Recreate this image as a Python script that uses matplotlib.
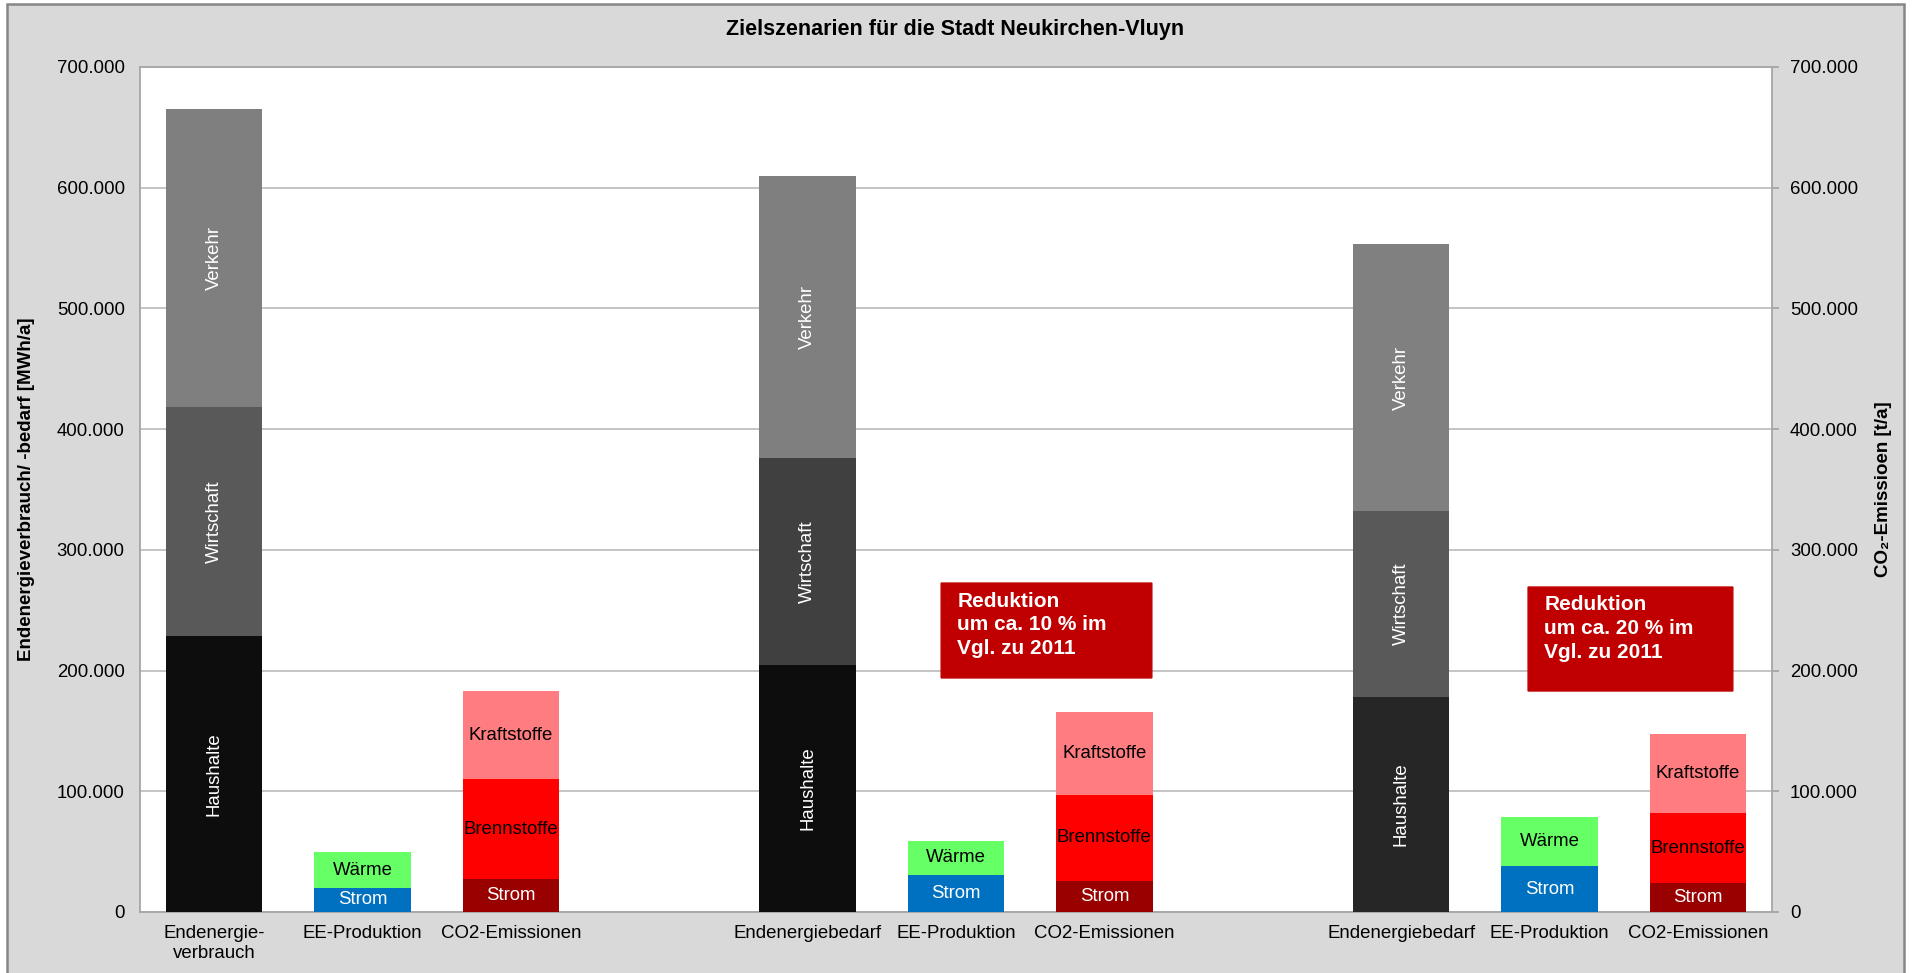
import matplotlib.pyplot as plt
from matplotlib.patches import Rectangle, FancyBboxPatch
from matplotlib.ticker import FuncFormatter, MultipleLocator

plt.rcParams['font.family'] = ['Liberation Sans', 'DejaVu Sans']

# Werte je Szenario (Ist 2011, Ziel 1, Ziel 2)
energie_labels = ["Endenergie-\nverbrauch", "Endenergiebedarf", "Endenergiebedarf"]
haushalte = [229000, 205000, 178000]
wirtschaft = [189000, 171000, 154000]
verkehr = [247000, 234000, 221000]

ee_strom = [20000, 31000, 38000]
ee_waerme = [29500, 27500, 41000]

co2_strom = [27000, 26000, 24000]
co2_brennstoffe = [83000, 71000, 58000]
co2_kraftstoffe = [73000, 68500, 65500]

reduktion_texte = ["Reduktion\num ca. 10 % im\nVgl. zu 2011",
                   "Reduktion\num ca. 20 % im\nVgl. zu 2011"]

# Farben
haushalte_farben = ['#0D0D0D', '#0D0D0D', '#262626']
wirtschaft_farben = ['#595959', '#404040', '#595959']
verkehr_farben = ['#7F7F7F', '#7F7F7F', '#808080']

W, H = 1912, 973
fig = plt.figure(figsize=(W / 100, H / 100), dpi=100, facecolor='white')
fig.patches.append(Rectangle((7 / W, -0.02), (1904 - 7) / W, 1.02 - 4 / H,
                             transform=fig.transFigure, facecolor='#D9D9D9',
                             edgecolor='#868686', lw=1.8, zorder=-10))

ax = fig.add_axes([140 / W, 1 - 912 / H, (1772 - 140) / W, (912 - 67) / H])
ax.set_facecolor('white')

breite = 0.65
fs = 13.4


def segment(x, unten, hoehe, farbe, text, textfarbe, rot=0):
    ax.bar(x, hoehe, bottom=unten, width=breite, color=farbe, zorder=3)
    ax.text(x, unten + hoehe / 2, text, rotation=rot, color=textfarbe,
            ha='center', va='center', fontsize=fs, zorder=4)


xticks, xlabels = [], []
for g in range(3):
    x0 = 4 * g
    # Endenergie
    segment(x0, 0, haushalte[g], haushalte_farben[g], "Haushalte", 'white', 90)
    segment(x0, haushalte[g], wirtschaft[g], wirtschaft_farben[g], "Wirtschaft", 'white', 90)
    segment(x0, haushalte[g] + wirtschaft[g], verkehr[g], verkehr_farben[g], "Verkehr", 'white', 90)
    # EE-Produktion
    segment(x0 + 1, 0, ee_strom[g], '#0070C0', "Strom", 'white')
    segment(x0 + 1, ee_strom[g], ee_waerme[g], '#66FF66', "Wärme", 'black')
    # CO2-Emissionen
    segment(x0 + 2, 0, co2_strom[g], '#990000', "Strom", 'white')
    segment(x0 + 2, co2_strom[g], co2_brennstoffe[g], '#FF0000', "Brennstoffe", 'black')
    segment(x0 + 2, co2_strom[g] + co2_brennstoffe[g], co2_kraftstoffe[g], '#FF7C80',
            "Kraftstoffe", 'black')
    xticks += [x0, x0 + 1, x0 + 2]
    xlabels += [energie_labels[g], "EE-Produktion", "CO2-Emissionen"]

ax.set_xlim(-0.5, 10.5)
ax.set_ylim(0, 700000)
ax.set_xticks(xticks)
ax.set_xticklabels(xlabels, fontsize=fs, va='top', linespacing=1.3)
ax.tick_params(axis='x', length=0, pad=9)

fmt = FuncFormatter(lambda v, p: f"{v:,.0f}".replace(',', '.'))
ax.yaxis.set_major_locator(MultipleLocator(100000))
ax.yaxis.set_major_formatter(fmt)
ax.tick_params(axis='y', length=0, pad=11, labelsize=fs)
ax.grid(axis='y', color='#BFBFBF', lw=1.3, zorder=0)
for s in ax.spines.values():
    s.set_color('#A6A6A6')
    s.set_linewidth(1.3)

ax2 = ax.twinx()
ax2.set_ylim(0, 700000)
ax2.yaxis.set_major_locator(MultipleLocator(100000))
ax2.yaxis.set_major_formatter(fmt)
ax2.tick_params(axis='y', length=5, width=1.3, color='#A6A6A6', pad=8, labelsize=fs)
for s in ax2.spines.values():
    s.set_visible(False)

# Reduktions-Hinweise
boxen = [(4.9, 193900, 1.42, 78600), (8.856, 183100, 1.38, 86100)]
for (bx, by, bw, bh), txt in zip(boxen, reduktion_texte):
    ax.add_patch(FancyBboxPatch((bx, by), bw, bh, boxstyle="round,pad=0,rounding_size=0.01",
                                facecolor='#C00000', edgecolor='#C00000', zorder=5))
    ax.text(bx + 0.11, by + bh - 7000, txt, color='white', fontsize=15, fontweight='bold',
            ha='left', va='top', linespacing=1.32, zorder=6)

fig.text(955 / W, 1 - 30 / H, "Zielszenarien für die Stadt Neukirchen-Vluyn",
         ha='center', va='center', fontsize=15.5, fontweight='bold')
fig.text(27 / W, 1 - 489 / H, "Endenergieverbrauch/ -bedarf [MWh/a]", rotation=90,
         ha='center', va='center', fontsize=13.5, fontweight='bold')
fig.text(1884 / W, 1 - 489 / H, "CO₂-Emissioen [t/a]", rotation=90,
         ha='center', va='center', fontsize=13.5, fontweight='bold')

fig.savefig('out.png', dpi=100, facecolor=fig.get_facecolor())
